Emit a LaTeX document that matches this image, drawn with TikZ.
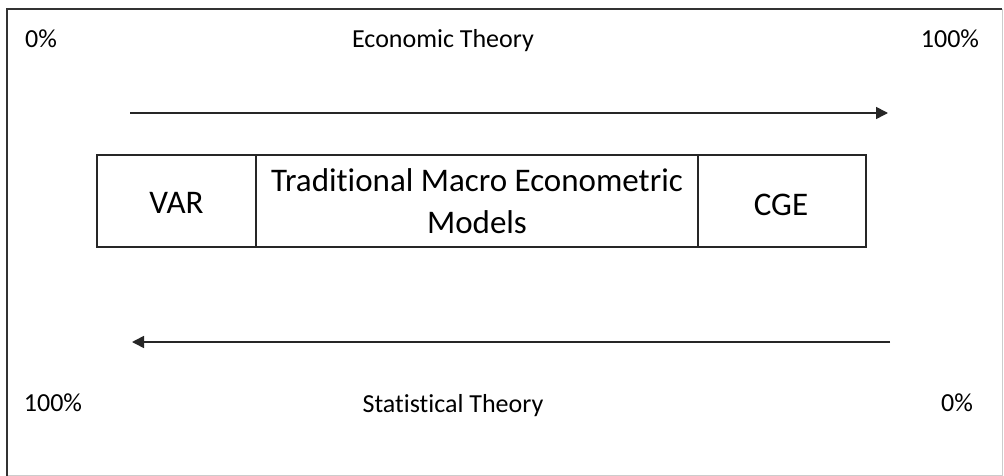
\documentclass[tikz,border=0pt]{standalone}
\usepackage{fontspec}
\setmainfont{Carlito}[RawFeature=-liga]
\usetikzlibrary{arrows.meta}
\begin{document}
\begin{tikzpicture}[x=1pt,y=-1pt,
  lbl/.style={inner sep=0pt,anchor=base,font=\fontsize{26}{30}\selectfont},
  boxtxt/.style={inner sep=0pt,font=\fontsize{33}{42}\selectfont,align=center},
  cell/.style={draw=black!85,line width=1.3pt},
  arr/.style={line width=1.6pt,black!85,-{Triangle[length=12pt,width=12pt]}}]
\useasboundingbox (0,0) rectangle (1004,476);
\fill[white] (0,0) rectangle (1004,476);
% frame
\draw[black!20,line width=1pt] (1002,9) -- (1002,475) -- (7,475);
\draw[black!80,line width=1.4pt] (7,476) -- (7,9) -- (1002,9);
% labels
\node[lbl] (t0) at (41,48) {0\%};
\node[lbl] (econ) at (443,48) {Economic Theory};
\node[lbl] (t100) at (950,48) {100\%};
\node[lbl] (b100) at (53,411) {100\%};
\node[lbl] (stat) at (453,412) {Statistical Theory};
\node[lbl] (b0) at (957,411) {0\%};
% boxes
\node[cell,minimum width=159pt,minimum height=92pt,inner sep=0pt] (var) at (176.5,201) {};
\node[cell,minimum width=442pt,minimum height=92pt,inner sep=0pt] (tm) at (477,201) {};
\node[cell,minimum width=168pt,minimum height=92pt,inner sep=0pt] (cge) at (782,201) {};
\node[boxtxt] (vart) at (176.5,203) {VAR};
\node[boxtxt] (tmt) at (477,201) {Traditional Macro Econometric\\Models};
\node[boxtxt] (cget) at (781,205) {CGE};
% arrows
\coordinate (a1) at (130,113);
\coordinate (a2) at (888,113);
\coordinate (b1) at (890,342);
\coordinate (b2) at (132,342);
\draw[arr] (a1) -- (a2);
\draw[arr] (b1) -- (b2);
\end{tikzpicture}
\end{document}
